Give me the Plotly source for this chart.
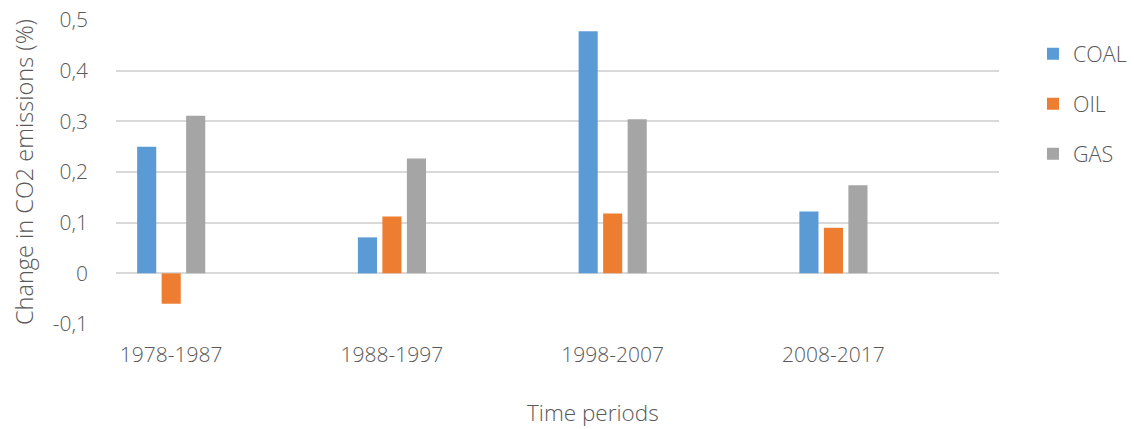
import plotly.graph_objects as go

periods = ["1978-1987", "1988-1997", "1998-2007", "2008-2017"]
coal = [0.25, 0.071, 0.478, 0.122]
oil = [-0.06, 0.112, 0.118, 0.09]
gas = [0.311, 0.227, 0.304, 0.174]

y_ticks = [-0.1, 0, 0.1, 0.2, 0.3, 0.4, 0.5]
y_labels = ["-0,1", "0", "0,1", "0,2", "0,3", "0,4", "0,5"]

txt = "#595959"
fnt = "Open Sans, Noto Sans, sans-serif"

fig = go.Figure()
fig.add_trace(go.Bar(x=periods, y=coal, name="COAL", marker_color="#5B9BD5", legendgroup="a"))
fig.add_trace(go.Bar(x=periods, y=oil, name="OIL", marker_color="#ED7D31", legendgroup="b"))
fig.add_trace(go.Bar(x=periods, y=gas, name="GAS", marker_color="#A5A5A5", legendgroup="c"))
fig.update_traces(marker_line_width=0)

fig.update_layout(
    width=1134, height=429,
    margin=dict(l=116, r=135, t=20, b=105, autoexpand=False),
    paper_bgcolor="white", plot_bgcolor="white",
    font=dict(family=fnt, size=21, color=txt, weight=300),
    barmode="group", bargap=0.667, bargroupgap=0.22,
    legend=dict(x=1.0385, xanchor="left", y=0.956, yanchor="top",
                font=dict(size=21.5), traceorder="grouped", tracegroupgap=19),
    xaxis=dict(type="category", range=[-0.25, 3.75], showgrid=False,
               showline=False, ticks="", ticklabelstandoff=16, automargin=False),
    yaxis=dict(range=[-0.1, 0.5002], tickvals=y_ticks, ticktext=y_labels,
               showgrid=True, gridcolor="#d9d9d9", gridwidth=1.5,
               zeroline=True, zerolinecolor="#d9d9d9", zerolinewidth=1.5,
               showline=False, ticks="", ticklabelstandoff=27, automargin=False,
               ticklabeloverflow="allow"),
    annotations=[
        dict(text="Time periods", xref="paper", yref="paper",
             x=0.5406, y=-0.232, xanchor="center", yanchor="top",
             showarrow=False, font=dict(size=22.5, color=txt)),
        dict(text="Change in CO2 emissions (%)", xref="paper", yref="paper",
             x=-0.1042, y=0.5, xanchor="center", yanchor="middle", textangle=-90,
             showarrow=False, font=dict(size=23.5, color=txt)),
    ],
)

# drop the browser's default 8px body margin so the figure fills the window
fig.write_html("out.html", config={"displayModeBar": False},
               post_script="document.body.style.margin='0';")
